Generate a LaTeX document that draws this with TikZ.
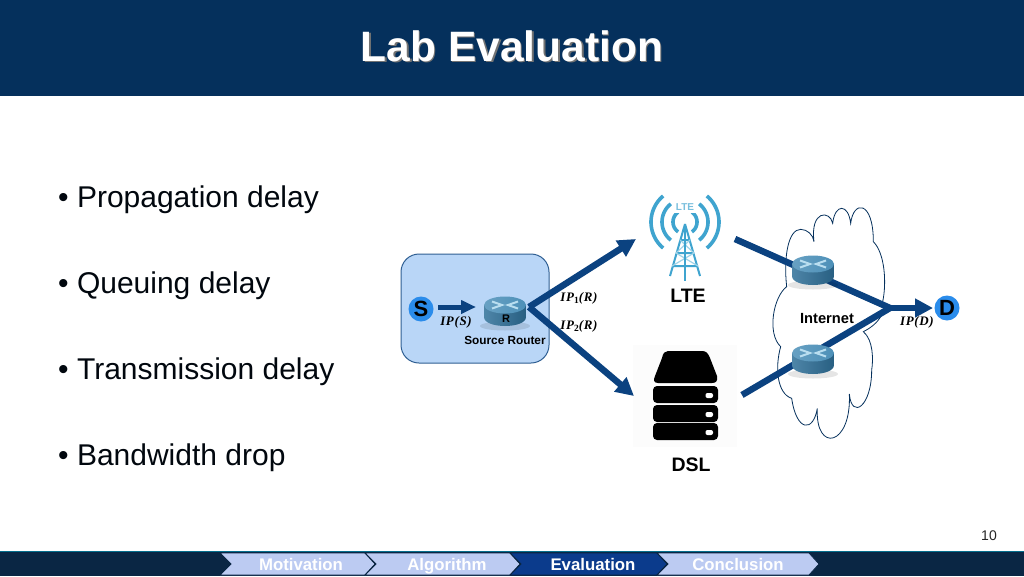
\documentclass[tikz,border=0pt]{standalone}
\usepackage{fontspec}
\setmainfont{Liberation Sans}
\newfontfamily\mathlike[LetterSpace=5]{Liberation Serif}
\usetikzlibrary{arrows.meta,shadows}
\definecolor{hdr}{HTML}{05305C}
\definecolor{foot}{HTML}{0A2644}
\definecolor{tabl}{HTML}{BCCBF2}
\definecolor{tabd}{HTML}{0B3B8C}
\definecolor{arr}{HTML}{0B4280}
\definecolor{boxf}{HTML}{B9D6F7}
\definecolor{boxe}{HTML}{2F5F93}
\definecolor{twr}{HTML}{3FA4CF}
\definecolor{rtop}{HTML}{4D90B8}
\definecolor{rside}{HTML}{2F7099}
\definecolor{endc}{HTML}{2A8CEB}
\definecolor{mark}{HTML}{B9DEF0}
\tikzset{
  x=1pt,y=-1pt,
  bul/.style={anchor=west,font=\fontsize{30}{30}\selectfont,text=black!85!hdr,inner sep=0pt},
  lab/.style={font=\bfseries\fontsize{19.5}{19.5}\selectfont,text=black,inner sep=0pt},
  small/.style={font=\bfseries\fontsize{11.8}{12}\selectfont,text=black,inner sep=0pt},
  ipl/.style={font=\mathlike\bfseries\itshape\fontsize{13}{13}\selectfont,text=black,inner sep=0pt},
  ends/.style={shape=circle,fill=endc,inner sep=0pt,minimum size=25pt,font=\bfseries\fontsize{22}{22}\selectfont,text=black},
  flow/.style={draw=arr,line width=6.5pt,-{Triangle[length=18pt,width=18pt]}},
  flowsmall/.style={draw=arr,line width=5pt,-{Triangle[length=15pt,width=13pt]}},
  flowp/.style={draw=arr,line width=6.5pt},
  tabtxt/.style={font=\bfseries\fontsize{16.8}{16.8}\selectfont,inner sep=0pt,anchor=base,text=white},
  routericon/.pic={
    \fill[black,opacity=.1] (0,21) ellipse [x radius=25,y radius=4.5];
    \shade[left color=rside!85!white,right color=rside!85!black]
      (-21,0) -- (-21,12) .. controls (-21,24) and (21,24) .. (21,12) -- (21,0) -- cycle;
    \shade[left color=rtop!85!white,right color=rtop] (0,0) ellipse [x radius=21,y radius=8.5];
    \draw[line width=2pt,draw=mark]
      (-13,-3.5) -- (-3,0) -- (-13,3.5) (13,-3.5) -- (3,0) -- (13,3.5);
  }
}
\begin{document}
\begin{tikzpicture}
\useasboundingbox (0,0) rectangle (1024,576);
\fill[white] (0,0) rectangle (1024,576);
% header
\fill[hdr] (0,0) rectangle (1024,96);
\node[font=\bfseries\fontsize{42.5}{42.5}\selectfont,text=black!55,inner sep=0pt] at (513.5,47.5) {Lab Evaluation};
\node[name=title,font=\bfseries\fontsize{42.5}{42.5}\selectfont,text=white,inner sep=0pt] at (512,46) {Lab Evaluation};
% bullets
\node[bul] (b1) at (58,199.5) {• Propagation delay};
\node[bul] (b2) at (58,285.5) {• Queuing delay};
\node[bul] (b3) at (58,371.5) {• Transmission delay};
\node[bul] (b4) at (58,457.5) {• Bandwidth drop};
% source box
\draw[fill=boxf,draw=boxe,line width=1pt,rounded corners=18pt] (401,254) rectangle (549,363);
% faint DSL backdrop
\fill[black!1] (633,345) rectangle (737,447);
% cloud
\begin{scope}[shift={(730,190)},x=1pt/3,y=-1pt/3]
\draw[draw=hdr,line width=.8pt,fill=white]
 (170,290) .. controls (160,200) and (175,118) .. (212,118)
 .. controls (232,118) and (250,135) .. (252,155)
 .. controls (240,60) and (300,60) .. (308,100)
 .. controls (315,40) and (355,40) .. (362,100)
 .. controls (370,30) and (430,30) .. (430,155)
 .. controls (465,190) and (470,280) .. (458,335)
 .. controls (470,360) and (450,400) .. (400,425)
 .. controls (430,450) and (430,510) .. (425,540)
 .. controls (425,650) and (365,690) .. (358,612)
 .. controls (365,770) and (255,790) .. (262,655)
 .. controls (250,727) and (200,727) .. (185,625)
 .. controls (140,610) and (135,530) .. (152,470)
 .. controls (110,430) and (130,320) .. (170,290) -- cycle;
\end{scope}
% coordinates
\coordinate (srcstart) at (438,307);
\coordinate (srcend) at (476,307);
\coordinate (split) at (529,307);
\coordinate (lteIn) at (636,239);
\coordinate (dslIn) at (634,396);
\coordinate (lteOut) at (735,239);
\coordinate (dslOut) at (742,395);
\coordinate (join) at (890,308);
\coordinate (dIn) at (933,308);
% connectors
\draw[flowsmall] (srcstart) -- (srcend);
\draw[flow] (split) -- (lteIn);
\draw[flow] (split) -- (dslIn);
\draw[flowp] (lteOut) -- (join);
\draw[flowp] (dslOut) -- (join);
\draw[flow] (join) -- (dIn);
% routers
\pic at (505,305) {routericon};
\pic at (813,264) {routericon};
\pic at (813,353) {routericon};
\node[small,font=\bfseries\fontsize{11}{11}\selectfont] (R) at (506,319) {R};
% ends
\node[ends] (S) at (421,309) {S};
\node[ends] (D) at (947,308) {D};
% labels
\node[small] (srlab) at (505,340) {Source Router};
\node[small,font=\bfseries\fontsize{14.7}{14.7}\selectfont] (inet) at (827,319) {Internet};
\node[lab] (ltel) at (688,296) {LTE};
\node[lab] (dsll) at (691,465) {DSL};
\node[ipl] (ips) at (456,322) {IP({S})};
\node[ipl] (ipd) at (917,322) {IP({D})};
\node[ipl] (ip1) at (579,298) {IP\raisebox{-2pt}{\upshape\fontsize{9.5}{9.5}\selectfont 1}(R)};
\node[ipl] (ip2) at (579,326) {IP\raisebox{-2pt}{\upshape\fontsize{9.5}{9.5}\selectfont 2}(R)};
% LTE tower
\foreach \r/\a in {34/50,23/52,12/55}{
  \draw[twr,line width=3.6pt] plot[domain=-\a:\a,samples=24,smooth] ({685+\r*cos(\x)},{222+\r*sin(\x)});
  \draw[twr,line width=3.6pt] plot[domain=-\a:\a,samples=24,smooth] ({685-\r*cos(\x)},{222+\r*sin(\x)});
}
\fill[white] (672,201) rectangle (698,213);
\node[font=\bfseries\fontsize{10}{10}\selectfont,text=twr!70!white,inner sep=0pt] (ltei) at (685,207) {LTE};
\draw[twr,line width=2pt,line join=round]
  (685,224) -- (670,276) (685,224) -- (700,276)
  (680,240) -- (690,240) (676,253) -- (694,253) (672,266) -- (698,266);
\draw[twr!50!white,line width=1.2pt]
  (680,240) -- (694,253) (690,240) -- (676,253) (676,253) -- (698,266) (694,253) -- (672,266);
\draw[twr,line width=2.6pt] (685,224) -- (685,281);
% DSL server
\fill[black] (668,351) -- (702,351) .. controls (706,351) and (708,353) .. (710,358) -- (717,376) .. controls (718,381) and (716,383) .. (712,383) -- (658,383) .. controls (654,383) and (653,380) .. (655,376) -- (662,358) .. controls (663,353) and (665,351) .. (668,351) -- cycle;
\foreach \y in {386,405,423}{
  \fill[black,rounded corners=4pt] (653,\y) rectangle (718,\y+17);
  \fill[white,rounded corners=2pt] (705.5,\y+7) rectangle (713,\y+12);
}
% footer
\fill[foot] (0,551) rectangle (1024,576);
\draw[hdr!70!cyan,line width=1pt] (0,551) -- (1024,551);
\foreach \xa/\xb/\fc/\nm in {220/365/tabl/m,365/510/tabl/a,510/657/tabd/e,657/809/tabl/c}{
  \draw[fill=\fc,draw=foot,line width=.8pt]
   (\xa,553) -- (\xb,553) -- (\xb+10,564) -- (\xb,575) -- (\xa,575) -- (\xa+11,564) -- cycle;
}
\node[tabtxt] (t1) at (301,570) {Motivation};
\node[tabtxt] (t2) at (447,570) {Algorithm};
\node[tabtxt] (t3) at (593,570) {Evaluation};
\node[tabtxt] (t4) at (738,570) {Conclusion};
\node[inner sep=0pt,font=\fontsize{14}{14}\selectfont,text=black!85] (pg) at (989,536) {10};
\end{tikzpicture}
\end{document}
